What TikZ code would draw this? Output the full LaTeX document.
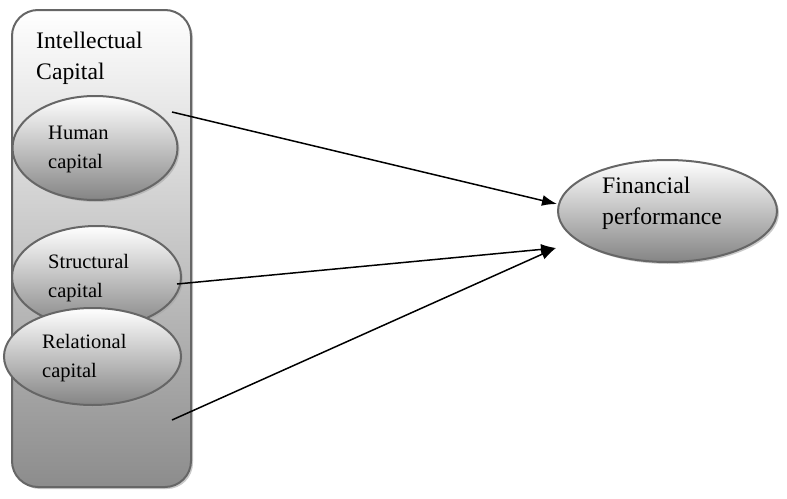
\documentclass[tikz,border=0pt]{standalone}
\usepackage{fontspec}
\setmainfont{Liberation Serif}
\usetikzlibrary{arrows.meta, shapes.geometric, shadows}
\tikzset{
    model/.style={x=1pt, y=-1pt, >={Latex[length=15pt, width=11pt]}},
    group/.style={draw=black!60, line width=2pt, rounded corners=26pt, top color=white, bottom color=black!45,
        drop shadow={shadow xshift=2pt, shadow yshift=-2pt, fill=black!35, opacity=0.6}},
    factor/.style={ellipse, draw=black!60, line width=2pt, inner sep=0pt, top color=white, bottom color=black!48,
        drop shadow={shadow xshift=2pt, shadow yshift=-2pt, fill=black!35, opacity=0.6}},
    caption/.style={anchor=west, align=left, inner sep=0pt, font=\fontsize{20.5}{29}\selectfont},
    bigcaption/.style={caption, font=\fontsize{23.7}{31}\selectfont},
    link/.style={->, line width=1.5pt},
}
\begin{document}
\begin{tikzpicture}[model]
    \useasboundingbox (0,0) rectangle (787,498);

    % grouping box
    \node[group, minimum width=179pt, minimum height=477pt] (ic) at (101.5,248.5) {};
    \node[bigcaption] (ictext) at (36,58) {Intellectual\\Capital};

    % the three components
    \node[factor, minimum width=165pt, minimum height=104pt] (human) at (95,148) {};
    \node[caption] (humantext) at (48,149) {Human\\capital};
    \node[factor, minimum width=169pt, minimum height=102pt] (struct) at (96.5,277) {};
    \node[caption] (structtext) at (48,278) {Structural\\capital};
    \node[factor, minimum width=177pt, minimum height=97pt] (relat) at (92.5,356.5) {};
    \node[caption] (relattext) at (42,358) {Relational\\capital};

    % outcome
    \node[factor, minimum width=219pt, minimum height=102pt] (fin) at (667.5,211) {};
    \node[bigcaption] (fintext) at (602,203) {Financial\\performance};

    % arrow ends
    \coordinate (human-out) at (172,112);
    \coordinate (struct-out) at (177,284);
    \coordinate (relat-out) at (172,420);
    \coordinate (fin-in1) at (557,204);
    \coordinate (fin-in2) at (556,248);

    \draw[link] (human-out) -- (fin-in1);
    \draw[link] (struct-out) -- (fin-in2);
    \draw[link] (relat-out) -- (fin-in2);
\end{tikzpicture}
\end{document}
